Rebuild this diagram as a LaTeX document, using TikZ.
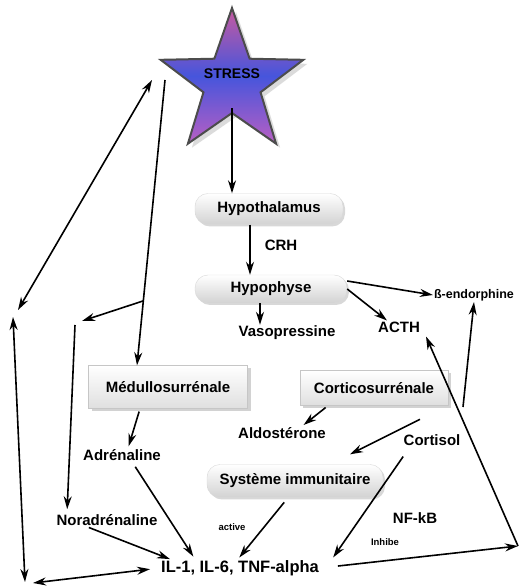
\documentclass[tikz,border=0pt]{standalone}
\usepackage{fontspec}
\setmainfont{Liberation Sans}
\usetikzlibrary{shapes.geometric,arrows.meta,shadows}
\tikzset{
  arr/.style={draw=drawColor,line width=1.6pt,line join=round,-{Stealth[length=13pt,width=8pt]}},
  arrboth/.style={draw=drawColor,line width=1.6pt,line join=round,{Stealth[length=13pt,width=8pt]}-{Stealth[length=13pt,width=8pt]}},
  lbl/.style={text=drawColor,inner sep=1pt,font=\bfseries\fontsize{15}{18}\selectfont},
  tinylbl/.style={text=drawColor,inner sep=1pt,font=\bfseries\fontsize{9.5}{11}\selectfont},
  roundbox/.style={lbl,rounded corners=13pt,top color=white,bottom color=gray!35,draw=gray!30,
    drop shadow={shadow xshift=2pt,shadow yshift=-2pt,fill=gray!60}},
  squarebox/.style={lbl,top color=white,bottom color=gray!25,draw=gray!45,
    drop shadow={shadow xshift=3pt,shadow yshift=-3pt,fill=gray!70}}
}
\begin{document}
\begin{tikzpicture}[x=1pt,y=1pt]
\definecolor{fillColor}{RGB}{255,255,255}
\definecolor{drawColor}{RGB}{0,0,0}
\definecolor{starTop}{RGB}{200,90,160}
\definecolor{starMid}{RGB}{70,85,220}
\definecolor{starBottom}{RGB}{185,95,195}
\path[use as bounding box,fill=fillColor] (0,0) rectangle (520,586);

% star
\node[star,star points=5,star point ratio=2.5,minimum size=150pt,inner sep=0pt,
  top color=starTop,bottom color=starBottom,middle color=starMid,draw=black!70,line width=2pt,
  drop shadow={shadow xshift=4pt,shadow yshift=-4pt,fill=gray!55},
  font=\bfseries\fontsize{14}{16}\selectfont] (stress) at (232,503)
  {\smash{\raisebox{4pt}{\makebox[0pt]{STRESS}}}};

% boxes
\node[roundbox,minimum width=148pt,minimum height=31pt] (hypothal) at (269,377) {Hypothalamus};
\node[roundbox,minimum width=152pt,minimum height=28pt] (hypophyse) at (271,297) {Hypophyse};
\node[squarebox,minimum width=159pt,minimum height=43pt] (medullo) at (168,199) {Médullosurrénale};
\node[squarebox,minimum width=148pt,minimum height=35pt] (cortico) at (374,198) {Corticosurrénale};
\node[roundbox,minimum width=176pt,minimum height=33pt] (systeme) at (295,105) {Système immunitaire};

% texts
\node[lbl] (crh) at (281,341) {CRH};
\node[lbl] (vaso) at (287,253) {Vasopressine};
\node[lbl] (acth) at (399,259) {ACTH};
\node[lbl,font=\bfseries\fontsize{12.5}{15}\selectfont] (endo) at (474,291) {ß-endorphine};
\node[lbl] (aldo) at (282,153) {Aldostérone};
\node[lbl] (cortisol) at (432,146) {Cortisol};
\node[lbl] (adren) at (122,131) {Adrénaline};
\node[lbl] (noradren) at (107,66) {Noradrénaline};
\node[lbl] (nfkb) at (415,68) {NF-kB};
\node[lbl,font=\bfseries\fontsize{16.5}{19}\selectfont] (il) at (240,18) {IL-1, IL-6, TNF-alpha};
\node[tinylbl] (active) at (232,59) {active};
\node[tinylbl] (inhibe) at (385,44) {Inhibe};

% free ends
\coordinate (sA) at (152,506);
\coordinate (lA) at (18,276);
\coordinate (sB) at (165,506);
\coordinate (br) at (143,285);
\coordinate (nt) at (82,265);
\coordinate (nl) at (75,261);
\coordinate (lt) at (13,269);
\coordinate (lb1) at (25,4);
\coordinate (lb2) at (33,3);
\coordinate (rc) at (518,40);
\coordinate (bf) at (463,179);

% connectors
\draw[arr] ([yshift=6pt]stress.inner point 3) -- (stress.inner point 3 |- hypothal.north);
\draw[arr] ([xshift=-19pt]hypothal.south) -- ([xshift=-21pt]hypophyse.north);
\draw[arr] ([xshift=-11pt]hypophyse.south) -- ([xshift=-27pt]vaso.north);
\draw[arr] ([yshift=8pt]hypophyse.east) -- (endo.west);
\draw[arr] (hypophyse.east) -- ([xshift=-12pt]acth.north);
\draw[arrboth] (sA) -- (lA);
\draw[arr] (sB) -- ([xshift=-31pt]medullo.north);
\draw[arr] (br) -- (nt);
\draw[arr,shorten >=4pt] (nl) -- ([xshift=-40pt]noradren.north);
\draw[arrboth] (lt) -- (lb1);
\draw[arrboth,shorten >=10pt] (lb2) -- (il.west);
\draw[arr,shorten <=3pt,shorten >=2pt] ([xshift=-28pt]medullo.south) -- ([xshift=6pt]adren.north);
\draw[arr,shorten <=6pt,shorten >=3pt] ([xshift=10pt]adren.south) -- ([xshift=-45pt]il.north);
\draw[arr,shorten <=2pt] ([xshift=-20pt]noradren.south) -- ([xshift=10pt]il.north west);
\draw[arr,shorten <=6pt,shorten >=2pt] ([xshift=-7pt]systeme.south) -- ([xshift=-2pt]il.north);
\draw[arr,shorten <=3pt,shorten >=2pt] ([xshift=-46pt]cortico.south) -- ([xshift=20pt]aldo.north);
\draw[arr] ([shift={(-12pt,14pt)}]cortisol.north) -- ([shift={(55pt,10pt)}]systeme.north);
\draw[arr,shorten <=12pt,shorten >=2pt] ([xshift=-22pt]cortisol.south) -- ([xshift=12pt]il.north east);
\draw[arr,shorten <=18pt] (il.east) -- (rc);
\draw[arr] (rc) -- ([xshift=5pt,yshift=-3pt]acth.south east);
\draw[arr] (bf) -- (endo.south);
\end{tikzpicture}
\end{document}
